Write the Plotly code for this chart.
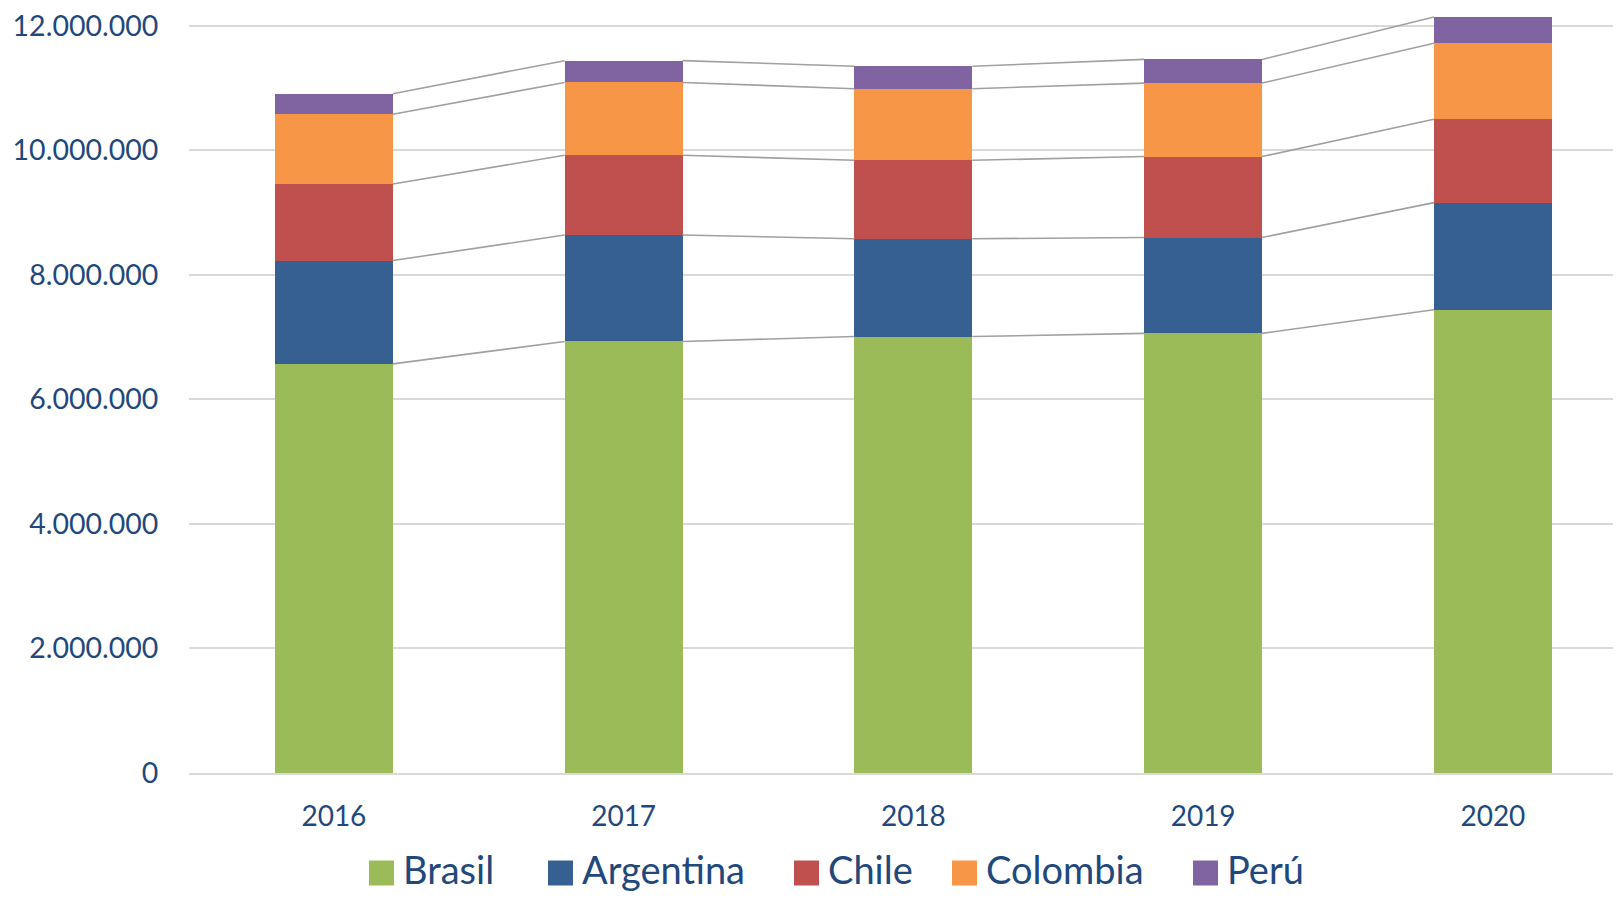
import plotly.graph_objects as go

years = ["2016", "2017", "2018", "2019", "2020"]
series_names = ["Brasil", "Argentina", "Chile", "Colombia", "Perú"]
brasil = [6570000, 6930000, 7010000, 7060000, 7440000]
argentina = [1660000, 1710000, 1570000, 1540000, 1720000]
chile = [1230000, 1280000, 1260000, 1300000, 1340000]
colombia = [1120000, 1170000, 1150000, 1180000, 1220000]
peru = [330000, 350000, 360000, 380000, 420000]
y_ticks = [0, 2000000, 4000000, 6000000, 8000000, 10000000, 12000000]

colors = ["#9BBB59", "#366092", "#C0504D", "#F79646", "#8064A2"]
values = [brasil, argentina, chile, colombia, peru]

# page body has an 8px margin; figure is laid out in page pixels minus that offset
OFF = 8
W, H = 1621 - 2 * OFF, 901 - 2 * OFF
L, R, T = 189 - OFF, 0, 0
zero_px = 773 - OFF          # y of value 0 inside figure
top12_px = 25.8 - OFF        # y of 12M gridline inside figure
B = H - zero_px
plot_w = W - L - R
plot_h = H - T - B
cat_px = 289.75
bar_w = 0.407
xs = list(range(len(years)))

fig = go.Figure()
for name, vals, col in zip(series_names, values, colors):
    fig.add_trace(go.Bar(x=xs, y=vals, name=name, marker=dict(color=col, line=dict(width=0)),
                         width=bar_w, showlegend=False))

# series lines connecting stacked tops
lx, ly = [], []
cum = [0] * len(years)
for vals in values:
    cum = [c + v for c, v in zip(cum, vals)]
    for i in range(len(years) - 1):
        lx += [xs[i] + bar_w / 2, xs[i + 1] - bar_w / 2, None]
        ly += [cum[i], cum[i + 1], None]
fig.add_trace(go.Scatter(x=lx, y=ly, mode="lines", line=dict(color="#A0A0A0", width=1.6),
                         showlegend=False, hoverinfo="skip"))

font_family = "Lato, 'Open Sans', sans-serif"
tick_color = "#1F497D"

# custom legend (page pixel positions)
def px_x(px):
    return (px - OFF - L) / plot_w

def px_y(py):
    return (T + plot_h - (py - OFF)) / plot_h

legend_sq_x = [369, 548, 794, 952, 1193]
sq_size = 25
legend_sq_cy = 873
legend_txt_cy = 869
shapes = []
annotations = []
for name, col, sx in zip(series_names, colors, legend_sq_x):
    shapes.append(dict(type="rect", xref="paper", yref="paper",
                       x0=px_x(sx), x1=px_x(sx + sq_size),
                       y0=px_y(legend_sq_cy + sq_size / 2), y1=px_y(legend_sq_cy - sq_size / 2),
                       fillcolor=col, line=dict(width=0)))
    annotations.append(dict(xref="paper", yref="paper", x=px_x(sx + sq_size + 7), y=px_y(legend_txt_cy),
                            xanchor="left", yanchor="middle", text=name, showarrow=False,
                            font=dict(family=font_family, size=38, color=tick_color)))

ymax = 12000000 * zero_px / (zero_px - top12_px)
fig.update_layout(
    width=W, height=H,
    margin=dict(l=L, r=R, t=T, b=B, pad=0),
    paper_bgcolor="white", plot_bgcolor="white",
    barmode="stack",
    separators=",.",
    shapes=shapes,
    annotations=annotations,
    xaxis=dict(
        range=[-0.5, -0.5 + plot_w / cat_px],
        tickvals=xs, ticktext=years,
        showgrid=False, zeroline=False,
        showline=True, linecolor="#D9D9D9", linewidth=2,
        ticks="outside", ticklen=17, tickcolor="rgba(0,0,0,0)",
        tickfont=dict(family=font_family, size=28, color=tick_color),
    ),
    yaxis=dict(
        range=[0, ymax],
        tickvals=y_ticks, tickformat=",.0f",
        ticklabeloverflow="allow",
        showgrid=True, gridcolor="#D9D9D9", gridwidth=1.5,
        zeroline=False, showline=False,
        ticks="outside", ticklen=24, tickcolor="rgba(0,0,0,0)",
        tickfont=dict(family=font_family, size=28.5, color=tick_color),
    ),
)

fig.write_html("out.html")
